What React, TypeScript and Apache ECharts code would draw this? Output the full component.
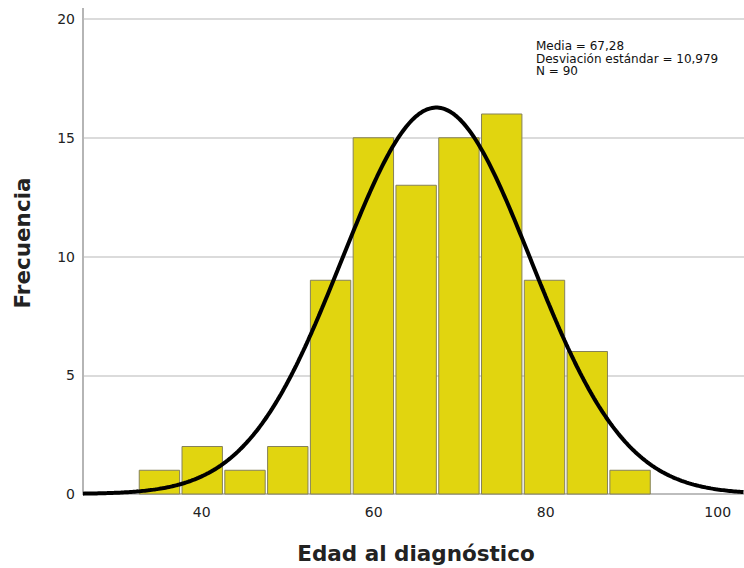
import React, { useEffect, useRef } from "react";
import * as echarts from "echarts";

// Histogram bins (edad al diagnóstico)
const binStarts = [32.6, 37.575, 42.55, 47.525, 52.5, 57.475, 62.45, 67.425, 72.4, 77.375, 82.35, 87.325];
const binWidth = 4.975;
const counts = [1, 2, 1, 2, 9, 15, 13, 15, 16, 9, 6, 1];

// Fitted normal curve parameters (from the chart's annotation)
const mean = 67.28;
const sd = 10.979;
const n = 90;

const xTicks = [40, 60, 80, 100];
const yTicks = [0, 5, 10, 15, 20];
const statsLines = ["Media = 67,28", "Desviación estándar = 10,979", "N = 90"];

const X_MIN = 26.2;
const X_MAX = 103.06;

export default function App() {
  const ref = useRef<HTMLDivElement>(null);

  useEffect(() => {
    if (!ref.current) return;
    const chart = echarts.init(ref.current, undefined, { renderer: "svg" });

    const barData = binStarts.map((s, i) => [s, s + binWidth, counts[i]]);
    const curve: number[][] = [];
    const scale = (n * binWidth) / (sd * Math.sqrt(2 * Math.PI));
    for (let x = X_MIN; x <= X_MAX + 0.001; x += 0.2) {
      const z = (x - mean) / sd;
      curve.push([x, scale * Math.exp(-0.5 * z * z)]);
    }

    const font = "DejaVu Sans";

    chart.setOption({
      animation: false,
      textStyle: { fontFamily: font },
      grid: { left: 83, right: 0, top: 19, bottom: 74, containLabel: false },
      xAxis: {
        type: "value",
        min: X_MIN,
        max: X_MAX,
        axisLine: { show: true, lineStyle: { color: "#bdbdbd", width: 2 } },
        axisTick: { show: false },
        splitLine: { show: false },
        axisLabel: {
          customValues: xTicks,
          color: "#222",
          fontSize: 14,
          margin: 11,
          fontFamily: font,
        },
      },
      yAxis: {
        type: "value",
        min: 0,
        max: 20,
        interval: 5,
        axisLine: { show: true, lineStyle: { color: "#b5b5b5", width: 2 } },
        axisTick: { show: false },
        splitLine: { show: true, lineStyle: { color: "#cfcfcf", width: 1.5 } },
        axisLabel: {
          color: "#222",
          fontSize: 14,
          margin: 8,
          fontFamily: font,
        },
      },
      series: [
        {
          type: "custom",
          data: barData,
          z: 2,
          renderItem: (params: any, api: any) => {
            const x0 = api.value(0);
            const x1 = api.value(1);
            const c = api.value(2);
            const p0 = api.coord([x0, c]);
            const p1 = api.coord([x1, 0]);
            const inset = 1.2;
            return {
              type: "rect",
              shape: {
                x: p0[0] + inset,
                y: p0[1],
                width: p1[0] - p0[0] - 2 * inset,
                height: p1[1] - p0[1],
              },
              style: { fill: "#e1d50f", stroke: "#85815a", lineWidth: 1 },
            };
          },
        },
        {
          type: "line",
          data: curve,
          showSymbol: false,
          smooth: false,
          z: 5,
          lineStyle: { color: "#000", width: 4 },
        },
      ],
      graphic: [
        {
          type: "line",
          shape: { x1: 83, y1: 8, x2: 83, y2: 20 },
          style: { stroke: "#b5b5b5", lineWidth: 2 },
        },
        {
          type: "text",
          left: 536,
          top: 40,
          style: {
            text: statsLines.join("\n"),
            fontSize: 12,
            lineHeight: 12.5,
            fill: "#111",
            fontFamily: font,
          },
        },
        {
          type: "text",
          x: 416,
          y: 553,
          style: {
            text: "Edad al diagnóstico",
            fontSize: 21.5,
            fontWeight: "bold",
            fill: "#222",
            fontFamily: font,
            align: "center",
            verticalAlign: "middle",
          },
        },
        {
          type: "text",
          x: 22,
          y: 243,
          rotation: Math.PI / 2,
          style: {
            text: "Frecuencia",
            fontSize: 21.5,
            fontWeight: "bold",
            fill: "#222",
            fontFamily: font,
            align: "center",
            verticalAlign: "middle",
          },
        },
      ],
    });

    return () => chart.dispose();
  }, []);

  return <div ref={ref} style={{ width: 744, height: 568, position: "absolute", left: 0, top: 0 }} />;
}
